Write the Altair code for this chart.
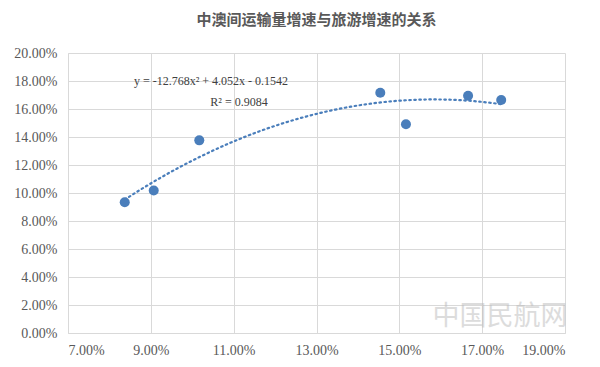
import altair as alt
import pandas as pd

title = "中澳间运输量增速与旅游增速的关系"
transport_growth = [0.0837, 0.0907, 0.1017, 0.1454, 0.1516, 0.1666, 0.1746]
tourism_growth = [0.0934, 0.1018, 0.1376, 0.1716, 0.1491, 0.1695, 0.1664]
x_ticks = [0.07, 0.09, 0.11, 0.13, 0.15, 0.17, 0.19]
y_ticks = [0.0, 0.02, 0.04, 0.06, 0.08, 0.10, 0.12, 0.14, 0.16, 0.18, 0.20]
equation = "y = -12.768x² + 4.052x - 0.1542"
r_squared = "R² = 0.9084"
watermark = "中国民航网"

df = pd.DataFrame({"x": transport_growth, "y": tourism_growth})

blue = "#4a7ebb"
label_font = "Liberation Serif"

xs = alt.Scale(domain=[0.07, 0.19], nice=False, zero=False)
ys = alt.Scale(domain=[0.0, 0.20], nice=False)

xax = alt.Axis(values=x_ticks, tickCount=len(x_ticks), format=".2%", title=None,
               grid=True, ticks=False,
               labelFontSize=14, labelColor="#595959", labelFont=label_font,
               labelPadding=10, domainColor="#d9d9d9", gridColor="#d9d9d9",
               labelOverlap=False)
yax = alt.Axis(values=y_ticks, tickCount=len(y_ticks), format=".2%", title=None,
               grid=True, ticks=False,
               labelFontSize=14, labelColor="#595959", labelFont=label_font,
               labelPadding=11, domainColor="#d9d9d9", gridColor="#d9d9d9",
               labelOverlap=False)

base = alt.Chart(df)

trend = base.transform_regression("x", "y", method="poly", order=2).mark_line(
    color=blue, strokeWidth=2.2, strokeDash=[1.5, 3.5], strokeCap="round"
).encode(x=alt.X("x:Q", scale=xs, axis=xax), y=alt.Y("y:Q", scale=ys, axis=yax))

points = base.mark_circle(size=100, color=blue, opacity=1).encode(
    x=alt.X("x:Q", scale=xs), y=alt.Y("y:Q", scale=ys)
)

eq_text = alt.Chart(pd.DataFrame({"t": [equation]})).mark_text(
    fontSize=12, color="#404040", font=label_font, align="center"
).encode(x=alt.value(143), y=alt.value(28), text="t:N")

r_text = alt.Chart(pd.DataFrame({"t": [r_squared]})).mark_text(
    fontSize=12, color="#404040", font=label_font, align="center"
).encode(x=alt.value(171), y=alt.value(49), text="t:N")

wm_text = alt.Chart(pd.DataFrame({"t": [watermark]})).mark_text(
    fontSize=27, color="#bbbbbb", opacity=0.5, font="Noto Sans CJK SC", align="center"
).encode(x=alt.value(432), y=alt.value(264), text="t:N")

chart = alt.layer(trend, points, eq_text, r_text, wm_text).properties(
    width=497, height=280,
    padding={"left": 5, "top": 5, "right": 5, "bottom": 5},
    title=alt.TitleParams(title, fontSize=15, font="Noto Sans CJK SC", fontWeight="bold",
                          color="#595959", offset=18, anchor="middle"),
).configure_view(stroke=None)

chart.save("out.html", embed_options={"renderer": "svg", "actions": False})
